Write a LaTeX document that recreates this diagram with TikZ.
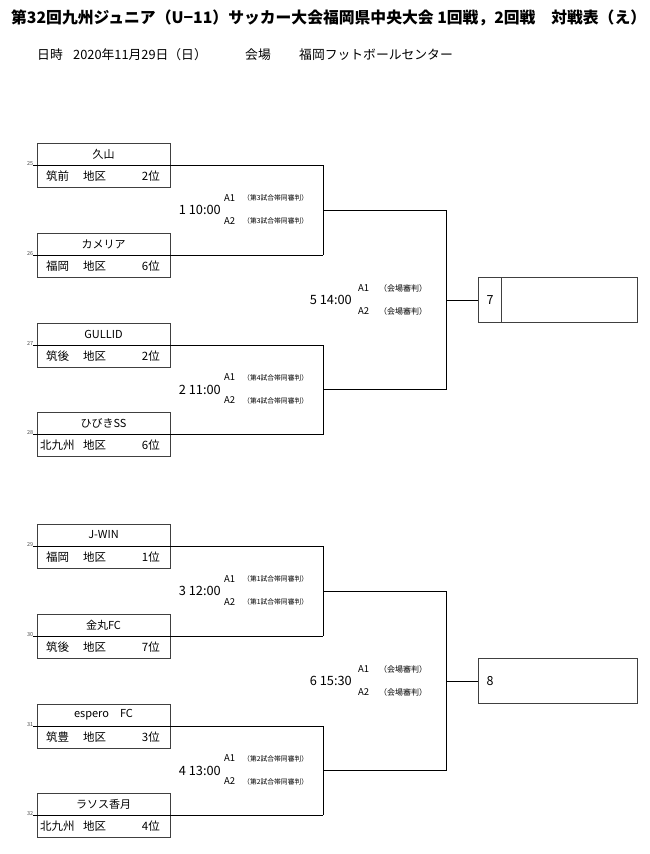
\documentclass[tikz,border=0pt]{standalone}
\usepackage{fontspec}
\setmainfont{Noto Sans CJK JP}
\newcommand\teamentry[7]{%
  \coordinate (#1w) at (33,#2);
  \coordinate (#1e) at (323,#2);
  \draw[boxline] (37,#2-22) rectangle (170,#2+22);
  \draw[wire] (#1w) -- (#1e);
  \node[namefont] (#1n) at (103.5,#2-11) {#3};
  \node[rowfont,anchor=west] (#1r) at (#7,#2+11) {#4};
  \node[rowfont,anchor=west] (#1d) at (83,#2+11) {地区};
  \node[rowfont,anchor=east] (#1k) at (160,#2+11) {#5};
  \node[numfont,anchor=south east] (#1x) at (34,#2+1) {#6};
}
\newcommand\firstmatch[6]{%
  \coordinate (#1i) at (323,#4);
  \coordinate (#1o) at (446,#4);
  \draw[wire] (#2e) -- (#3e);
  \draw[wire] (#1i) -- (#1o);
  \node[timefont,anchor=east] (#1t) at (221,#4) {#5};
  \node[afont,anchor=west] (#1a) at (224,#4-12) {A1};
  \node[reffont,anchor=west] (#1b) at (243,#4-12) {（#6試合帯同審判）};
  \node[afont,anchor=west] (#1c) at (224,#4+11) {A2};
  \node[reffont,anchor=west] (#1d) at (243,#4+11) {（#6試合帯同審判）};
}
\newcommand\secondmatch[7]{%
  \coordinate (#1o) at (478,#4);
  \draw[wire] (#2o) -- (#3o);
  \draw[wire] (#1i) -- (#1o);
  \node[timefont,anchor=east] (#1t) at (352,#4) {#5};
  \node[afont,anchor=west] (#1a) at (358,#4-12) {A1};
  \node[ref2font,anchor=west] (#1b) at (379,#4-12) {（会場審判）};
  \node[afont,anchor=west] (#1c) at (358,#4+11) {A2};
  \node[ref2font,anchor=west] (#1d) at (379,#4+11) {（会場審判）};
  \draw[boxline] (478,#4-23) rectangle (637,#4+22);
  \node[numbig] (#1n) at (490,#4) {#7};
}
\begin{document}
\begin{tikzpicture}[x=1pt,y=-1pt,
  wire/.style={line width=0.9pt,black},
  boxline/.style={line width=1pt,black!75},
  namefont/.style={inner sep=0pt,font=\fontsize{11}{11}\selectfont},
  rowfont/.style={inner sep=0pt,font=\fontsize{11.5}{11.5}\selectfont},
  numfont/.style={inner sep=0.5pt,font=\fontsize{5.5}{5.5}\selectfont,text=black!70},
  timefont/.style={inner sep=0pt,font=\fontsize{12.8}{12.8}\selectfont},
  afont/.style={inner sep=0pt,font=\fontsize{9.5}{9.5}\selectfont},
  reffont/.style={inner sep=0pt,font=\fontsize{6.8}{6.8}\selectfont},
  ref2font/.style={inner sep=0pt,font=\fontsize{8}{8}\selectfont},
  numbig/.style={inner sep=0pt,font=\fontsize{12.5}{12.5}\selectfont},
  datefont/.style={inner sep=0pt,anchor=west,font=\fontsize{12.8}{12.8}\selectfont}]
\fill[white] (0,0) rectangle (650,854);
\useasboundingbox (0,0) rectangle (650,854);
\node[inner sep=0pt,anchor=west,font=\bfseries\fontsize{15.8}{15.8}\selectfont] (title) at (11,18) {第32回九州ジュニア（U−11）サッカー大会福岡県中央大会 1回戦，2回戦　対戦表（え）};
\node[datefont] (d1) at (37,55) {日時};
\node[datefont] (d2) at (73,55) {2020年11月29日（日）};
\node[datefont] (d3) at (245,55) {会場};
\node[datefont] (d4) at (299,55) {福岡フットボールセンター};
\teamentry{a}{165}{久山}{筑前}{2位}{25}{46}
\teamentry{b}{255}{カメリア}{福岡}{6位}{26}{46}
\teamentry{c}{345}{GULLID}{筑後}{2位}{27}{46}
\teamentry{d}{434.5}{ひびきSS}{北九州}{6位}{28}{40}
\teamentry{e}{546}{J-WIN}{福岡}{1位}{29}{46}
\teamentry{f}{636}{金丸FC}{筑後}{7位}{30}{46}
\teamentry{g}{726}{espero　FC}{筑豊}{3位}{31}{46}
\teamentry{h}{815}{ラソス香月}{北九州}{4位}{32}{40}
\firstmatch{m}{a}{b}{210}{1 10:00}{第3}
\firstmatch{n}{c}{d}{389.5}{2 11:00}{第4}
\firstmatch{p}{e}{f}{591}{3 12:00}{第1}
\firstmatch{q}{g}{h}{770.5}{4 13:00}{第2}
\coordinate (ri) at (446,300);
\secondmatch{r}{m}{n}{300}{5 14:00}{}{7}
\draw[boxline] (501,277) -- (501,322);
\coordinate (si) at (446,681);
\secondmatch{s}{p}{q}{681}{6 15:30}{}{8}
\end{tikzpicture}
\end{document}
